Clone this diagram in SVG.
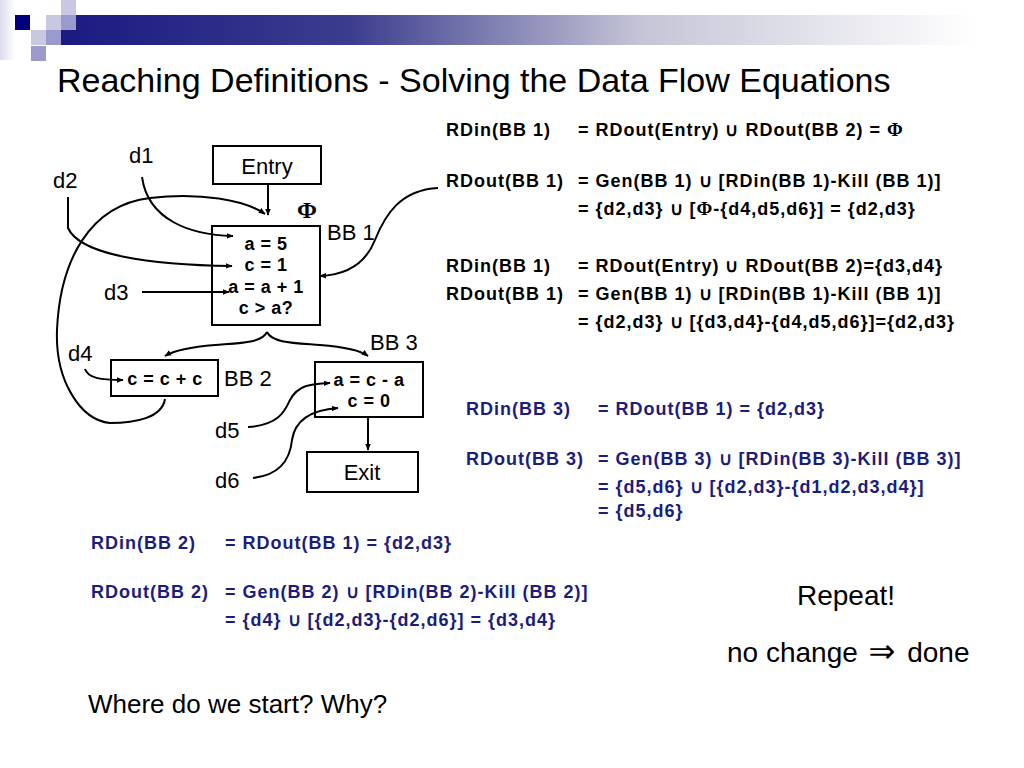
<svg xmlns="http://www.w3.org/2000/svg" width="1024" height="768" viewBox="0 0 1024 768">
<defs>
<linearGradient id="bar" x1="0" y1="0" x2="1" y2="0">
<stop offset="0" stop-color="#1a1a82"/>
<stop offset="0.3" stop-color="#3c3c8e"/>
<stop offset="0.6" stop-color="#c4c4d6"/>
<stop offset="0.95" stop-color="#ffffff"/>
</linearGradient>
<linearGradient id="side" x1="0" y1="0" x2="1" y2="0">
<stop offset="0" stop-color="#dcdcee"/>
<stop offset="1" stop-color="#ffffff"/>
</linearGradient>
<marker id="ah" viewBox="0 0 10 10" refX="9" refY="5" markerWidth="7" markerHeight="7" orient="auto" markerUnits="userSpaceOnUse">
<path d="M0,1 L10,5 L0,9 Z" fill="#000"/>
</marker>
</defs>
<style>
.box{fill:#fff;stroke:#000;stroke-width:2}
.lbl{font-family:"Liberation Sans",Arial,sans-serif;font-size:22px;fill:#000}
.code{font-family:"Liberation Sans",Arial,sans-serif;font-size:18px;font-weight:bold;letter-spacing:0.5px;fill:#000}
.eq{font-family:"Liberation Sans",Arial,sans-serif;font-size:18px;font-weight:bold;letter-spacing:1px;fill:#000}
.eqb{font-family:"Liberation Sans",Arial,sans-serif;font-size:18px;font-weight:bold;letter-spacing:1px;fill:#1c1c7c}
.big{font-family:"Liberation Sans",Arial,sans-serif;font-size:28px;fill:#000}
.phi{font-family:"Liberation Serif","Times New Roman",serif;font-weight:bold}
.con path,.con line{fill:none;stroke:#000;stroke-width:2}
</style>
<g id="header">
<rect x="0" y="0" width="15" height="60" fill="url(#side)"/>
<rect x="15" y="15" width="15" height="15" fill="#00007f"/>
<rect x="46" y="15" width="15" height="15" fill="#c8c8e2"/>
<rect x="61" y="0" width="15" height="15" fill="#c8c8e2"/>
<rect x="31" y="30" width="15" height="15" fill="#c8c8e2"/>
<rect x="46" y="30" width="15" height="15" fill="#9a9acc"/>
<rect x="31" y="46" width="15" height="15" fill="#9a9acc"/>
<rect x="61" y="15" width="963" height="30" fill="url(#bar)"/>
<rect x="61" y="15" width="15" height="15" fill="#9a9acc"/>
</g>
<text x="57" y="92" font-family="Liberation Sans,Arial,sans-serif" font-size="34" fill="#000">Reaching Definitions - Solving the Data Flow Equations</text>
<g id="entry">
<rect class="box" x="213" y="146" width="108" height="38"/>
<text class="lbl" x="267" y="174" text-anchor="middle">Entry</text>
</g>
<text class="phi" x="307" y="218" font-size="24" text-anchor="middle">Φ</text>
<g id="bb1">
<rect class="box" x="212" y="226" width="108" height="99"/>
<text class="code" x="266" y="250" text-anchor="middle">a = 5</text>
<text class="code" x="266" y="271" text-anchor="middle">c = 1</text>
<text class="code" x="266" y="293" text-anchor="middle">a = a + 1</text>
<text class="code" x="266" y="314" text-anchor="middle">c &gt; a?</text>
<text class="lbl" x="327" y="240">BB 1</text>
</g>
<g id="bb2">
<rect class="box" x="111" y="360" width="107" height="36"/>
<text class="code" x="165" y="385" text-anchor="middle">c = c + c</text>
<text class="lbl" x="224" y="386">BB 2</text>
</g>
<g id="bb3">
<rect class="box" x="315" y="362" width="108" height="55"/>
<text class="code" x="369" y="386" text-anchor="middle">a = c - a</text>
<text class="code" x="369" y="407" text-anchor="middle">c = 0</text>
<text class="lbl" x="370" y="350">BB 3</text>
</g>
<g id="exit">
<rect class="box" x="307" y="452" width="111" height="40"/>
<text class="lbl" x="362" y="480" text-anchor="middle">Exit</text>
</g>
<g id="defs-labels">
<text class="lbl" x="129" y="163">d1</text>
<text class="lbl" x="53" y="188">d2</text>
<text class="lbl" x="104" y="300">d3</text>
<text class="lbl" x="68" y="361">d4</text>
<text class="lbl" x="215" y="438">d5</text>
<text class="lbl" x="215" y="488">d6</text>
</g>
<g id="connectors" class="con">
<line x1="268" y1="184" x2="268" y2="215" marker-end="url(#ah)"/>
<path d="M142,177 C148,220 190,235 233,236" marker-end="url(#ah)"/>
<path d="M68,197 L68,228 C80,255 150,265 232,266" marker-end="url(#ah)"/>
<line x1="142" y1="292" x2="229" y2="292" marker-end="url(#ah)"/>
<path d="M165,399 C162,418 135,423 110,423 C80,420 55,380 57,330 C60,260 90,205 150,198 C200,192 245,200 265,214" marker-end="url(#ah)"/>
<path d="M438,188 C400,190 385,215 375,240 C365,265 345,275 320,276" marker-end="url(#ah)"/>
<path d="M267,332 C262,343 240,343 215,345 C190,347 175,350 165,356" marker-end="url(#ah)"/>
<path d="M267,332 C272,343 295,343 320,345 C345,347 360,350 368,356" marker-end="url(#ah)"/>
<path d="M85,369 C88,378 100,380 123,380" marker-end="url(#ah)"/>
<path d="M248,427 C280,425 285,410 290,400 C298,385 310,384 330,383" marker-end="url(#ah)"/>
<path d="M253,478 C280,475 290,460 292,440 C295,420 310,410 338,408" marker-end="url(#ah)"/>
<line x1="368" y1="417" x2="368" y2="450" marker-end="url(#ah)"/>
</g>
<g id="eq1">
<text class="eq" x="446" y="136">RDin(BB 1)</text>
<text class="eq" x="578" y="136">= RDout(Entry) ∪ RDout(BB 2) = <tspan class="phi" font-size="19">Φ</tspan></text>
<text class="eq" x="446" y="187">RDout(BB 1)</text>
<text class="eq" x="578" y="187">= Gen(BB 1) ∪ [RDin(BB 1)-Kill (BB 1)]</text>
<text class="eq" x="578" y="215">= {d2,d3} ∪ [<tspan class="phi" font-size="19">Φ</tspan>-{d4,d5,d6}] = {d2,d3}</text>
</g>
<g id="eq2">
<text class="eq" x="446" y="272">RDin(BB 1)</text>
<text class="eq" x="578" y="272">= RDout(Entry) ∪ RDout(BB 2)={d3,d4}</text>
<text class="eq" x="446" y="300">RDout(BB 1)</text>
<text class="eq" x="578" y="300">= Gen(BB 1) ∪ [RDin(BB 1)-Kill (BB 1)]</text>
<text class="eq" x="578" y="328">= {d2,d3} ∪ [{d3,d4}-{d4,d5,d6}]={d2,d3}</text>
</g>
<g id="eq3">
<text class="eqb" x="466" y="415">RDin(BB 3)</text>
<text class="eqb" x="598" y="415">= RDout(BB 1) = {d2,d3}</text>
<text class="eqb" x="466" y="465">RDout(BB 3)</text>
<text class="eqb" x="598" y="465">= Gen(BB 3) ∪ [RDin(BB 3)-Kill (BB 3)]</text>
<text class="eqb" x="598" y="493">= {d5,d6} ∪ [{d2,d3}-{d1,d2,d3,d4}]</text>
<text class="eqb" x="598" y="517">= {d5,d6}</text>
</g>
<g id="eq4">
<text class="eqb" x="91" y="549">RDin(BB 2)</text>
<text class="eqb" x="225" y="549">= RDout(BB 1) = {d2,d3}</text>
<text class="eqb" x="91" y="598">RDout(BB 2)</text>
<text class="eqb" x="225" y="598">= Gen(BB 2) ∪ [RDin(BB 2)-Kill (BB 2)]</text>
<text class="eqb" x="225" y="626">= {d4} ∪ [{d2,d3}-{d2,d6}] = {d3,d4}</text>
</g>
<text class="big" x="846" y="605" text-anchor="middle">Repeat!</text>
<text class="big" x="727" y="662">no change <tspan dx="3" font-family="DejaVu Sans,sans-serif" font-size="32">⇒</tspan><tspan dx="4"> done</tspan></text>
<text x="88" y="713" font-family="Liberation Sans,Arial,sans-serif" font-size="26" fill="#000">Where do we start? Why?</text>
</svg>
